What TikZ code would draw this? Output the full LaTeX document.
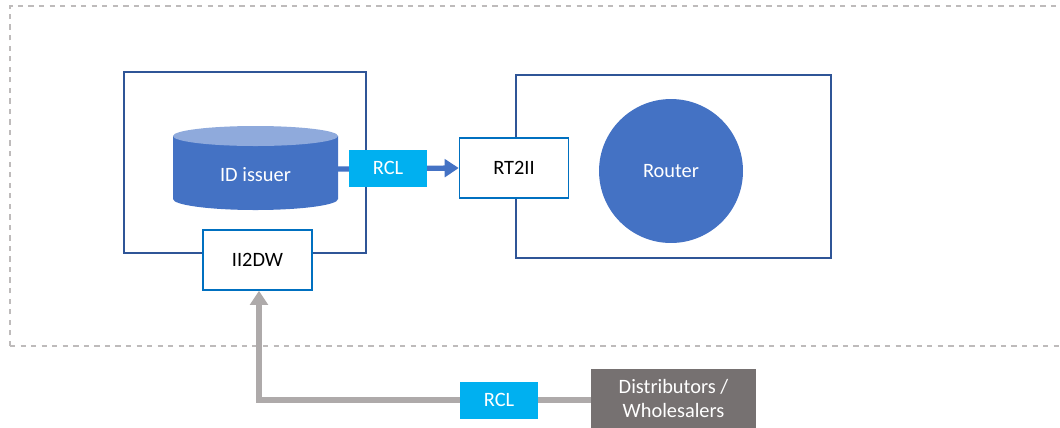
\documentclass[tikz,border=0pt]{standalone}
\usepackage{fontspec}
\setmainfont{Carlito}
\usetikzlibrary{arrows.meta,shapes.geometric}
\definecolor{frameblue}{HTML}{2F5597}
\definecolor{boxblue}{HTML}{0070C0}
\definecolor{fillblue}{HTML}{4472C4}
\definecolor{lightblue}{HTML}{8FAADC}
\definecolor{rclcyan}{HTML}{00B0F0}
\definecolor{distgray}{HTML}{767171}
\definecolor{linegray}{HTML}{AEAAAA}
\begin{document}
\begin{tikzpicture}[x=0.02cm,y=-0.02cm,
  font=\fontsize{11.6}{13.5}\selectfont,
  frame/.style={draw=frameblue,line width=0.9pt},
  iface/.style={draw=boxblue,line width=0.9pt,fill=white,minimum width=2.18cm,minimum height=1.2cm},
  rcl/.style={fill=rclcyan,text=white,minimum width=1.56cm,minimum height=0.74cm},
]
\useasboundingbox (0,0) rectangle (1060,427);
% outer dashed area
\draw[linegray!80,dashed,line width=0.6pt] (10,346) -- (10,6) -- (1070,6);
\draw[linegray!80,dashed,line width=0.6pt] (10,346) -- (1070,346);

% ID issuer side
\draw[frame] (124,72) rectangle (366,253);
\fill[fillblue] (173,136) -- (173,199) arc[start angle=180,end angle=360,x radius=82.5,y radius=-11] -- (338,136) -- cycle;
\fill[lightblue] (255.5,136) ellipse[x radius=82.5,y radius=10];
\node[text=white] (issuer) at (255.5,175) {ID issuer};
\coordinate (issuerR) at (338,169);
\node[iface] (ii2dw) at (257.5,260) {II2DW};

% Router side
\draw[frame] (516,75) rectangle (831,258);
\node[circle,fill=fillblue,minimum size=2.88cm,text=white] (router) at (671,171) {Router};
\node[iface] (rt2ii) at (514,168) {RT2II};

% RCL issuer -> router
\draw[fillblue,line width=3pt,-{Triangle[length=8pt,width=10pt]}] (issuerR) -- (rt2ii.west);
\node[rcl] (rcl1) at (388,168) {RCL};

% distributors
\node[fill=distgray,text=white,align=center,minimum width=3.3cm,minimum height=1.18cm] (dist) at (673.5,398.5) {Distributors /\\Wholesalers};
\coordinate (corner) at (259,400);
\draw[linegray,line width=3pt,-{Triangle[length=8pt,width=10pt]}] (dist.west |- corner) -- (corner) -- (ii2dw.south -| corner);
\node[rcl] (rcl2) at (499,400) {RCL};
\end{tikzpicture}
\end{document}
